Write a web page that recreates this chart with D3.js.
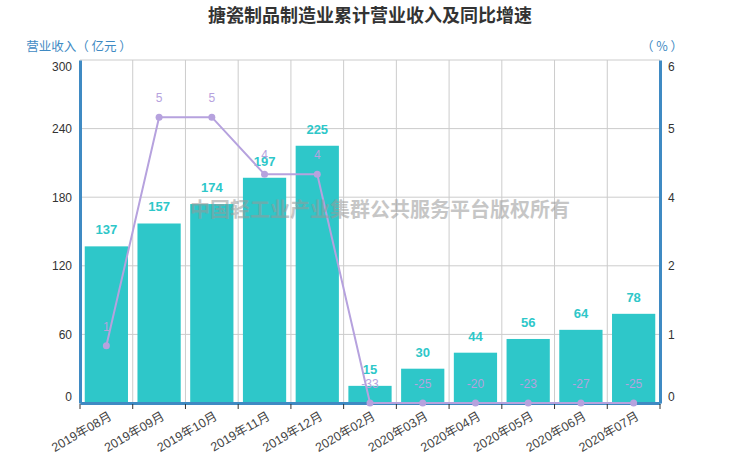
<!DOCTYPE html>
<html>
<head>
<meta charset="utf-8">
<script src="https://cdn.jsdelivr.net/npm/d3@7"></script>
<style>
  body { margin: 0; background: #fff; }
  text { font-family: "Liberation Sans", "Noto Sans CJK SC", sans-serif; }
</style>
</head>
<body>
<div id="chart"></div>
<script>
// data
var months = ["2019年08月", "2019年09月", "2019年10月", "2019年11月", "2019年12月",
    "2020年02月", "2020年03月", "2020年04月", "2020年05月", "2020年06月", "2020年07月"];
var revenue = [137, 157, 174, 197, 225, 15, 30, 44, 56, 64, 78];
var growth = [1, 5, 5, 4, 4, -33, -25, -20, -23, -27, -25];
var leftTicks = [0, 60, 120, 180, 240, 300];
var rightTicks = [0, 1.2, 2.4, 3.6, 4.8, 6];

var W = 740, H = 462;
var margin = {top: 60, right: 80, bottom: 59, left: 80};
var width = W - margin.left - margin.right,
    height = H - margin.top - margin.bottom;

var barColor = "#2ec7c9", lineColor = "#b6a2de", axisColor = "#3f8ac3";

var svg = d3.select("#chart").append("svg")
    .attr("width", W)
    .attr("height", H);

svg.append("text")
    .attr("x", W / 2)
    .attr("y", 22)
    .attr("text-anchor", "middle")
    .style("font-family", "Noto Sans CJK SC, sans-serif")
    .style("font-size", "18px")
    .style("font-weight", "bold")
    .style("fill", "#333")
    .text("搪瓷制品制造业累计营业收入及同比增速");

var g = svg.append("g")
    .attr("transform", "translate(" + margin.left + "," + margin.top + ")");

// scales
var x = d3.scaleBand().domain(months).range([0, width]).padding(0);
var y = d3.scaleLinear().domain([0, 300]).range([height, 0]);
var y2 = d3.scaleLinear().domain([0, 6]).range([height, 0]).clamp(true);

// grid
g.append("g").selectAll("line")
    .data(leftTicks)
    .enter().append("line")
    .attr("x1", 0).attr("x2", width)
    .attr("y1", d => y(d)).attr("y2", d => y(d))
    .style("stroke", "#ccc");

g.append("g").selectAll("line")
    .data(months.slice(1))
    .enter().append("line")
    .attr("x1", d => x(d)).attr("x2", d => x(d))
    .attr("y1", 0).attr("y2", height)
    .style("stroke", "#ccc");

// bars
var inset = x.bandwidth() * 0.09;
g.selectAll(".bar")
    .data(revenue)
    .enter().append("rect")
    .attr("class", "bar")
    .attr("x", (d, i) => x(months[i]) + inset)
    .attr("width", x.bandwidth() - 2 * inset)
    .attr("y", d => y(d))
    .attr("height", d => height - y(d))
    .style("fill", barColor);

g.selectAll(".bar-label")
    .data(revenue)
    .enter().append("text")
    .attr("class", "bar-label")
    .attr("x", (d, i) => x(months[i]) + x.bandwidth() / 2)
    .attr("y", d => y(d) - 12)
    .attr("text-anchor", "middle")
    .style("font-size", "13px")
    .style("font-weight", "bold")
    .style("fill", barColor)
    .text(d => d);

// axes
var xAxis = d3.axisBottom(x).tickSize(0).tickFormat("");
g.append("g")
    .attr("transform", "translate(0," + height + ")")
    .call(xAxis)
    .call(s => s.select(".domain").style("stroke", axisColor).style("stroke-width", 3));

// x ticks at category boundaries
g.append("g").selectAll("line")
    .data(months.concat(["end"]))
    .enter().append("line")
    .attr("x1", (d, i) => i * x.step()).attr("x2", (d, i) => i * x.step())
    .attr("y1", height + 1).attr("y2", height + 6)
    .style("stroke", "#333");

g.append("g").selectAll("text")
    .data(months)
    .enter().append("text")
    .attr("transform", d => "translate(" + (x(d) + x.bandwidth() / 2 + 4) + "," + (height + 12) + ") rotate(-30)")
    .attr("text-anchor", "end")
    .attr("dy", "0.35em")
    .style("font-size", "12.5px")
    .style("fill", "#444")
    .text(d => d);

var yAxis = d3.axisLeft(y).tickValues(leftTicks).tickSize(0).tickPadding(8);
g.append("g")
    .call(yAxis)
    .call(s => s.select(".domain").style("stroke", axisColor).style("stroke-width", 3))
    .call(s => s.selectAll("text")
        .style("font-size", "12px").style("fill", "#333").style("font-family", "Liberation Sans, sans-serif")
        .attr("dy", d => d == 300 ? "0.9em" : d == 0 ? "-0.25em" : "0.32em"));

var yAxis2 = d3.axisRight(y2).tickValues(rightTicks).tickSize(0).tickPadding(8)
    .tickFormat(d => Math.round(d));
g.append("g")
    .attr("transform", "translate(" + width + ",0)")
    .call(yAxis2)
    .call(s => s.select(".domain").style("stroke", axisColor).style("stroke-width", 3))
    .call(s => s.selectAll("text")
        .style("font-size", "12px").style("fill", "#333").style("font-family", "Liberation Sans, sans-serif")
        .attr("dy", d => d == 6 ? "0.9em" : d == 0 ? "-0.25em" : "0.32em"));

// growth line (drawn over the axis so the clamped points stay visible)
var line = d3.line()
    .x((d, i) => x(months[i]) + x.bandwidth() / 2)
    .y(d => y2(d));

g.append("path")
    .datum(growth)
    .attr("d", line)
    .style("fill", "none")
    .style("stroke", lineColor)
    .style("stroke-width", "2px");

g.selectAll(".pt")
    .data(growth)
    .enter().append("circle")
    .attr("class", "pt")
    .attr("r", 3.5)
    .attr("cx", (d, i) => x(months[i]) + x.bandwidth() / 2)
    .attr("cy", d => y2(d))
    .style("fill", lineColor);

g.selectAll(".pt-label")
    .data(growth)
    .enter().append("text")
    .attr("class", "pt-label")
    .attr("x", (d, i) => x(months[i]) + x.bandwidth() / 2)
    .attr("y", d => y2(d) - 15)
    .attr("text-anchor", "middle")
    .style("font-size", "12px")
    .style("fill", lineColor)
    .text(d => d);

// watermark on top
g.append("text")
    .attr("x", width / 2 + 10)
    .attr("y", 157)
    .attr("text-anchor", "middle")
    .style("font-family", "Noto Sans CJK SC, sans-serif")
    .style("font-size", "20px")
    .style("font-weight", "bold")
    .style("fill", "#999")
    .style("opacity", 0.55)
    .text("中国轻工业产业集群公共服务平台版权所有");

// axis names
svg.append("text")
    .attr("x", 79)
    .attr("y", 51)
    .attr("text-anchor", "middle")
    .style("font-family", "Noto Sans CJK SC, sans-serif")
    .style("font-size", "12.5px")
    .style("fill", axisColor)
    .text("营业收入（ 亿元 ）");

svg.append("text")
    .attr("x", 662)
    .attr("y", 51)
    .attr("text-anchor", "middle")
    .style("font-family", "Noto Sans CJK SC, sans-serif")
    .style("font-size", "12.5px")
    .style("fill", axisColor)
    .text("（ % ）");
</script>
</body>
</html>
